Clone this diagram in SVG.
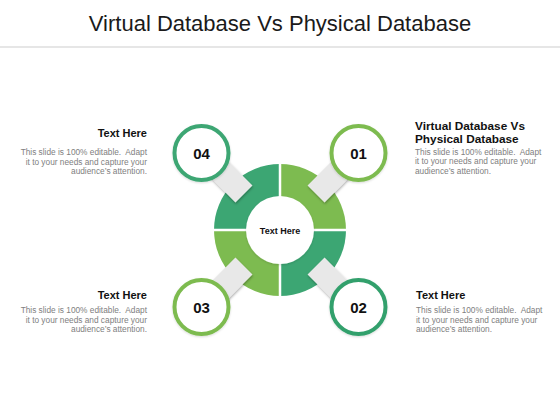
<svg xmlns="http://www.w3.org/2000/svg" width="560" height="420" viewBox="0 0 560 420">
<defs>
<style>
.title{font-family:"Liberation Sans",Arial,sans-serif;font-size:22px;fill:#1a1a1a}
.head{font-family:"Liberation Sans",Arial,sans-serif;font-size:11px;font-weight:bold;fill:#111}
.head2{font-family:"Liberation Sans",Arial,sans-serif;font-size:11.8px;font-weight:bold;fill:#111}
.body{font-family:"Liberation Sans",Arial,sans-serif;font-size:8.3px;fill:#808080}
.num{font-family:"Liberation Sans",Arial,sans-serif;font-size:15px;font-weight:bold;fill:#111;text-anchor:middle}
.ctr{font-family:"Liberation Sans",Arial,sans-serif;font-size:9px;font-weight:bold;fill:#111;text-anchor:middle}
.dark{fill:#3ca673}
.light{fill:#7dbb50}
.conn{fill:#e8e8e8}
.bub{fill:#fff;stroke-width:4}
</style>
<filter id="sh" x="-30%" y="-30%" width="160%" height="160%">
<feDropShadow dx="0.5" dy="1.5" stdDeviation="1.2" flood-color="#000" flood-opacity="0.3"/>
</filter>
<filter id="sh2" x="-30%" y="-30%" width="160%" height="160%">
<feDropShadow dx="0" dy="1" stdDeviation="1.2" flood-color="#000" flood-opacity="0.15"/>
</filter>
</defs>
<rect width="560" height="420" fill="#fff"/>
<text class="title" x="280" y="31" text-anchor="middle">Virtual Database Vs Physical Database</text>
<line x1="0" y1="47" x2="560" y2="47" stroke="#e6e6e6" stroke-width="2"/>

<g id="ring">
<path class="dark" d="M280,230 L214,230 A66,66 0 0 1 280,164 Z"/>
<path class="light" d="M280,230 L280,164 A66,66 0 0 1 346,230 Z"/>
<path class="dark" d="M280,230 L346,230 A66,66 0 0 1 280,296 Z"/>
<path class="light" d="M280,230 L280,296 A66,66 0 0 1 214,230 Z"/>
<line x1="280" y1="162" x2="280" y2="298" stroke="#fff" stroke-width="2.5"/>
<line x1="212" y1="230" x2="348" y2="230" stroke="#fff" stroke-width="2.5"/>
<circle cx="280" cy="230" r="34" fill="#fff" filter="url(#sh2)"/>
<text class="ctr" x="280" y="233.5">Text Here</text>
</g>

<g id="connectors">
<g filter="url(#sh)"><rect class="conn" x="51" y="-12" width="56" height="24" transform="translate(280,230) rotate(-45)"/></g>
<g filter="url(#sh)"><rect class="conn" x="51" y="-12" width="56" height="24" transform="translate(280,230) rotate(45)"/></g>
<g filter="url(#sh)"><rect class="conn" x="51" y="-12" width="56" height="24" transform="translate(280,230) rotate(135)"/></g>
<g filter="url(#sh)"><rect class="conn" x="51" y="-12" width="56" height="24" transform="translate(280,230) rotate(-135)"/></g>
</g>

<g id="node01">
<circle class="bub" cx="358.5" cy="153" r="27" stroke="#7dbb50" filter="url(#sh2)"/>
<text class="num" x="358.5" y="158.5">01</text>
<text class="head2" x="415" y="130">Virtual Database Vs</text>
<text class="head2" x="415" y="143.3">Physical Database</text>
<text class="body" x="415" y="155" xml:space="preserve">This slide is 100% editable.  Adapt</text>
<text class="body" x="415" y="164.3">it to your needs and capture your</text>
<text class="body" x="415" y="173.5">audience’s attention.</text>
</g>

<g id="node02">
<circle class="bub" cx="358.5" cy="307" r="27" stroke="#33a06c" filter="url(#sh2)"/>
<text class="num" x="358.5" y="312.5">02</text>
<text class="head" x="416" y="299">Text Here</text>
<text class="body" x="416" y="313" xml:space="preserve">This slide is 100% editable.  Adapt</text>
<text class="body" x="416" y="322.5">it to your needs and capture your</text>
<text class="body" x="416" y="332">audience’s attention.</text>
</g>

<g id="node03">
<circle class="bub" cx="201.5" cy="307" r="27" stroke="#7dbb50" filter="url(#sh2)"/>
<text class="num" x="201.5" y="312.5">03</text>
<text class="head" x="147" y="299" text-anchor="end">Text Here</text>
<text class="body" x="147" y="313" text-anchor="end" xml:space="preserve">This slide is 100% editable.  Adapt</text>
<text class="body" x="147" y="322.5" text-anchor="end">it to your needs and capture your</text>
<text class="body" x="147" y="332" text-anchor="end">audience’s attention.</text>
</g>

<g id="node04">
<circle class="bub" cx="201.5" cy="153" r="27" stroke="#3ca673" filter="url(#sh2)"/>
<text class="num" x="201.5" y="158.5">04</text>
<text class="head" x="147" y="137" text-anchor="end">Text Here</text>
<text class="body" x="147" y="155" text-anchor="end" xml:space="preserve">This slide is 100% editable.  Adapt</text>
<text class="body" x="147" y="164.5" text-anchor="end">it to your needs and capture your</text>
<text class="body" x="147" y="174" text-anchor="end">audience’s attention.</text>
</g>
</svg>
